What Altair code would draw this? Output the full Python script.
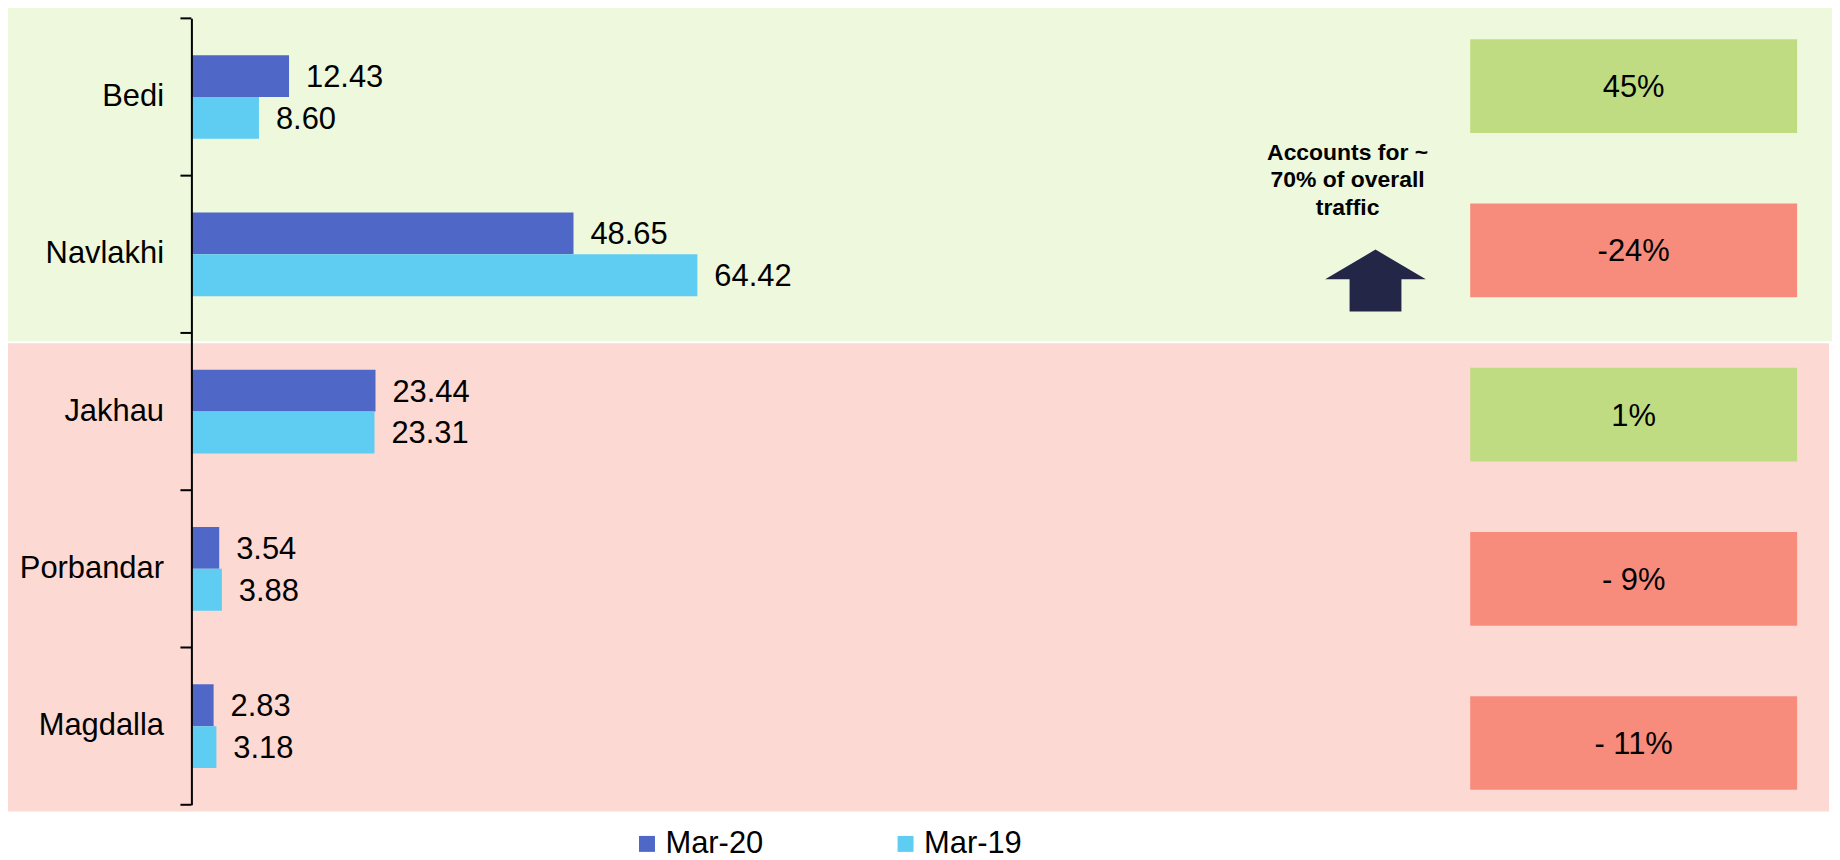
import altair as alt
import pandas as pd

# ---------------- data ----------------
ports = ["Bedi", "Navlakhi", "Jakhau", "Porbandar", "Magdalla"]
series = ["Mar-20", "Mar-19"]
mar20 = [12.43, 48.65, 23.44, 3.54, 2.83]
mar19 = [8.60, 64.42, 23.31, 3.88, 3.18]
growth_labels = ["45%", "-24%", "1%", "- 9%", "- 11%"]
growth_sign = [1, -1, 1, -1, -1]
note_lines = ["Accounts for ~", "70% of overall", "traffic"]
boundaries = [0, 1, 2, 3, 4, 5]

# ---------------- style ----------------
FONT = "Liberation Sans"
C_MAR20 = "#4f68c8"
C_MAR19 = "#5fccf2"
C_UP = "#c0dc82"
C_DOWN = "#f78c7c"
BG_GREEN = "#edf8dc"
BG_PINK = "#fcd9d3"
C_ARROW = "#232646"

PLOT_W = 1642
PLOT_H = 789
X_MAX = PLOT_W / 7.88

bars_df = pd.DataFrame(
    [{"port": p, "series": "Mar-20", "value": v} for p, v in zip(ports, mar20)]
    + [{"port": p, "series": "Mar-19", "value": v} for p, v in zip(ports, mar19)]
)
bars_df["label"] = bars_df["value"].map(lambda v: f"{v:.2f}")

box_df = pd.DataFrame({"port": ports, "label": growth_labels, "sign": growth_sign})
bnd_df = pd.DataFrame({"b": boundaries})
one = pd.DataFrame({"k": [0]})

y_bar_scale = alt.Scale(domain=ports, paddingInner=0.4677, paddingOuter=0.23385)
x_scale = alt.Scale(domain=[0, X_MAX], nice=False, zero=True)
off = alt.YOffset("series:N", sort=series,
                  scale=alt.Scale(domain=series, paddingInner=0, paddingOuter=0))

# backgrounds
bg_green = alt.Chart(one).mark_rect(color=BG_GREEN).encode(
    x=alt.value(-190), x2=alt.value(1646), y=alt.value(-12), y2=alt.value(324))
bg_pink = alt.Chart(one).mark_rect(color=BG_PINK).encode(
    x=alt.value(-185), x2=alt.value(1643), y=alt.value(326), y2=alt.value(795.7))

# growth boxes
box_y = alt.Y("port:N", axis=None,
              scale=alt.Scale(domain=ports, range=[-14.4, 809.4],
                              paddingInner=0.4294, paddingOuter=0.2147))
boxes = alt.Chart(box_df).mark_rect().encode(
    x=alt.value(1283), x2=alt.value(1611), y=box_y,
    color=alt.condition(alt.datum.sign > 0, alt.value(C_UP), alt.value(C_DOWN)))
box_text = alt.Chart(box_df).mark_text(
    font=FONT, fontSize=31, color="black", align="center", baseline="middle", dy=2
).encode(x=alt.value(1447), y=box_y, text="label:N")

# arrow and note
arrow_path = ("M0,-0.614 L1,-0.026 L0.515,-0.026 L0.515,0.614 "
              "L-0.515,0.614 L-0.515,-0.026 L-1,-0.026 Z")
arrow = alt.Chart(one).mark_point(
    shape=arrow_path, size=10201, filled=True, color=C_ARROW, opacity=1, strokeWidth=0
).encode(x=alt.value(1188), y=alt.value(263))
note = alt.Chart(one).mark_text(
    font=FONT, fontSize=23, fontWeight="bold", color="black", align="center",
    baseline="alphabetic", lineHeight=27.5
).encode(x=alt.value(1160), y=alt.value(142), text=alt.value(note_lines))

# bars
bars = alt.Chart(bars_df).mark_bar(opacity=1).encode(
    x=alt.X("value:Q", scale=x_scale, axis=None),
    y=alt.Y("port:N", scale=y_bar_scale, sort=ports, title=None,
            axis=alt.Axis(ticks=False, domainColor="black", domainWidth=2,
                          labelFont=FONT, labelFontSize=31, labelColor="black",
                          labelPadding=28, zindex=1)),
    yOffset=off,
    color=alt.Color("series:N", sort=series,
                    scale=alt.Scale(domain=series, range=[C_MAR20, C_MAR19]),
                    legend=alt.Legend(orient="none", legendX=441.6, legendY=812.5,
                                      direction="horizontal", title=None,
                                      symbolType="square", symbolSize=256,
                                      symbolStrokeWidth=0, symbolOpacity=1,
                                      labelFont=FONT, labelFontSize=31,
                                      labelColor="black", labelOffset=3,
                                      columnPadding=126.4, padding=0)),
)
values = alt.Chart(bars_df).mark_text(
    font=FONT, fontSize=31, color="black", align="left", baseline="middle", dx=17, dy=2
).encode(
    x=alt.X("value:Q", scale=x_scale, axis=None),
    y=alt.Y("port:N", scale=y_bar_scale, sort=ports, axis=None),
    yOffset=off,
    text="label:N",
)

ticks = alt.Chart(bnd_df).mark_rule(color="black", strokeWidth=2).encode(
    y=alt.Y("b:Q", scale=alt.Scale(domain=[0, 5], nice=False, zero=False), axis=None),
    x=alt.value(-11), x2=alt.value(0))

chart = alt.layer(
    bg_green, bg_pink, boxes, box_text, arrow, note, bars, values, ticks
).resolve_scale(y="independent").properties(
    width=PLOT_W, height=PLOT_H,
    autosize=alt.AutoSizeParams(type="none"),
    padding={"left": 184, "top": 9, "right": 4, "bottom": 54},
    background="white",
).configure_view(stroke=None)

chart.save("out.html", embed_options={"renderer": "svg", "actions": False})
